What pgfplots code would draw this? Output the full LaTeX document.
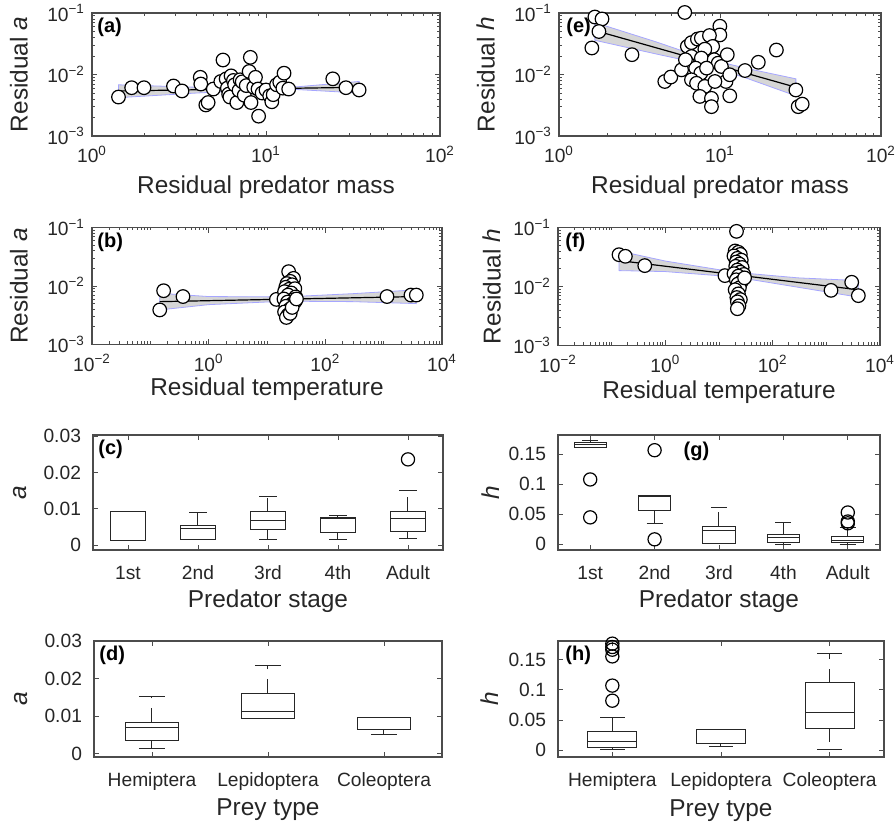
\documentclass[border=0pt]{standalone}
\usepackage{fontspec}
\setmainfont{Liberation Sans}
\usepackage{pgfplots}
\pgfplotsset{compat=1.18}

\tikzset{tag/.style={font=\fontsize{10}{12}\selectfont\bfseries, text=black, inner sep=0pt, anchor=north west}}

\pgfplotsset{
  panel/.style={
    scale only axis, clip=false, anchor=north west,
    axis line style={black!70, line width=0.55pt},
    every tick/.style={black!70, line width=0.45pt},
    major tick length=2.6pt, minor tick length=1.5pt,
    tick label style={font=\fontsize{9.6}{11}\selectfont, text=black!85},
    label style={font=\fontsize{12.2}{14}\selectfont, text=black!85},
    xlabel style={at={([yshift=-29pt]axis description cs:0.5,0)}, anchor=base},
    ylabel style={at={([xshift=-36.5pt]axis description cs:0,0.5)}, anchor=center},
  },
  logpanel/.style={panel, ymin=1e-3, ymax=1e-1,
    ytick={0.001,0.01,0.1},
    yticklabels={10\textsuperscript{−3},10\textsuperscript{−2},10\textsuperscript{−1}},
    minor ytick={0.002,0.003,0.004,0.005,0.006,0.007,0.008,0.009,0.02,0.03,0.04,0.05,0.06,0.07,0.08,0.09},
    xticklabel style={yshift=-1.5pt},
  },
  catpanel/.style={panel, scaled y ticks=false,
    xticklabel style={yshift=-4.5pt}, yticklabel style={xshift=-2.5pt}},
  boxpanel/.style={catpanel, ytick={0,0.01,0.02,0.03}, yticklabels={0,0.01,0.02,0.03},
    ymin=-0.0013, ymax=0.0303},
  hpanel/.style={catpanel, ytick={0,0.05,0.1,0.15}, yticklabels={0,0.05,0.1,0.15}},
  dot/.style={only marks, mark=*, mark size=3.4pt, mark options={fill=white, draw=black, line width=0.6pt, solid}},
  band/.style={fill=black!16, draw=blue!35, line width=0.4pt},
  fitline/.style={black, line width=0.6pt, no marks},
  boxline/.style={black!85, line width=0.5pt, solid, no marks},
  whisk/.style={boxline, dash pattern=on 7pt off 5pt},
  outlier/.style={only marks, mark=o, mark size=3.3pt, mark options={black, line width=0.6pt, solid}},
}

% one box: #1 position, #2 half width, #3 lower whisker, #4 lower quartile,
% #5 median, #6 upper quartile, #7 upper whisker
\newcommand{\bxp}[7]{%
  \pgfmathsetmacro{\bxL}{#1-#2}\pgfmathsetmacro{\bxR}{#1+#2}%
  \pgfmathsetmacro{\bxCL}{#1-#2/2}\pgfmathsetmacro{\bxCR}{#1+#2/2}%
  \edef\bxtmp{%
    \noexpand\addplot[whisk] coordinates {(#1,#6) (#1,#7)};
    \noexpand\addplot[whisk] coordinates {(#1,#4) (#1,#3)};
    \noexpand\addplot[boxline] coordinates {(\bxCL,#7) (\bxCR,#7)};
    \noexpand\addplot[boxline] coordinates {(\bxCL,#3) (\bxCR,#3)};
    \noexpand\addplot[boxline] coordinates {(\bxL,#4) (\bxR,#4) (\bxR,#6) (\bxL,#6)} -- cycle;
    \noexpand\addplot[boxline] coordinates {(\bxL,#5) (\bxR,#5)};
  }\bxtmp}

\begin{document}
\begin{tikzpicture}
\useasboundingbox (0,0) rectangle (448pt,412.5pt);

% (a)
\begin{loglogaxis}[logpanel, at={(46pt,406pt)}, width=174pt, height=61.5pt,
  xmin=1, xmax=100, xtick={1,10,100},
  xticklabels={10\textsuperscript{0},10\textsuperscript{1},10\textsuperscript{2}},
  minor xtick={2,3,4,5,6,7,8,9,20,30,40,50,60,70,80,90},
  xlabel={Residual predator mass}, ylabel={Residual \textit{a}}]
\addplot[band] coordinates {(1.42,0.0068) (4,0.0062) (8,0.0060) (15,0.0063) (34.3,0.0077)
  (34.3,0.0050) (15,0.0057) (8,0.0055) (4,0.0050) (1.42,0.0042)} -- cycle;
\addplot[fitline] coordinates {(1.42,0.0054) (34.3,0.0062)};
\addplot[dot] coordinates {
 (1.42,0.0043) (1.69,0.0061) (1.99,0.0061) (2.94,0.0065) (3.29,0.0054) (4.19,0.0090) (4.22,0.0070)
 (4.51,0.0032) (4.65,0.0035) (4.98,0.0058) (5.66,0.0172) (5.5,0.0077) (5.9,0.0085) (6.0,0.0060)
 (6.1,0.0048) (6.2,0.0043) (6.3,0.0095) (6.5,0.0080) (6.6,0.0068) (6.8,0.0035) (7.0,0.0055)
 (7.1,0.0082) (7.3,0.0076) (7.5,0.0046) (7.7,0.0066) (8.13,0.0190) (8.0,0.0112) (8.2,0.0035)
 (8.5,0.0062) (8.7,0.0090) (9.07,0.0021) (9.0,0.0058) (9.5,0.0050) (10.0,0.0056) (10.5,0.0045)
 (10.8,0.0036) (11.0,0.0047) (11.5,0.0068) (12.0,0.0075) (12.7,0.0105) (12.5,0.0060) (13.5,0.0058)
 (24.2,0.0085) (28.8,0.0061) (34.3,0.0056)};
\node[tag, xshift=2.5pt, yshift=-2.5pt] at (rel axis cs:0,1) {(a)};
\end{loglogaxis}

% (e)
\begin{loglogaxis}[logpanel, at={(279.5pt,406pt)}, width=161pt, height=61.5pt,
  xmin=1, xmax=100, xtick={1,10,100},
  xticklabels={10\textsuperscript{0},10\textsuperscript{1},10\textsuperscript{2}},
  minor xtick={2,3,4,5,6,7,8,9,20,30,40,50,60,70,80,90},
  xlabel={Residual predator mass}, ylabel={Residual \textit{h}}]
\addplot[band] coordinates {(1.67,0.070) (4,0.034) (8,0.0183) (15,0.0124) (29.6,0.0085)
  (29.6,0.0045) (15,0.0085) (8,0.0146) (4,0.0216) (1.67,0.036)} -- cycle;
\addplot[fitline] coordinates {(1.67,0.052) (29.6,0.0062)};
\addplot[dot] coordinates {
 (1.67,0.086) (1.85,0.080) (1.77,0.050) (1.6,0.027) (2.84,0.021) (4.54,0.0077) (4.95,0.0091)
 (6.04,0.102) (9.98,0.061) (9.98,0.044) (6.27,0.0286) (6.65,0.033) (7.24,0.0377) (7.66,0.039)
 (8.6,0.043) (9.0,0.0286) (8.05,0.0258) (6.65,0.0196) (6.3,0.0153) (7.66,0.0185) (9.2,0.0174)
 (9.75,0.0153) (10.2,0.0135) (7.06,0.0127) (7.6,0.0105) (6.65,0.0082) (7.15,0.0072) (8.05,0.0064)
 (7.5,0.0044) (8.85,0.0041) (8.85,0.0030) (10.9,0.0077) (11.5,0.0099) (9.3,0.0077) (8.25,0.0127)
 (5.77,0.0119) (6.1,0.0174) (11.1,0.021) (11.5,0.0045) (14.3,0.0116) (17.3,0.0158) (22.4,0.025)
 (29.6,0.0056) (30.6,0.0030) (32.4,0.0033)};
\node[tag, xshift=3.5pt, yshift=-2.5pt] at (rel axis cs:0,1) {(e)};
\end{loglogaxis}

% (b)
\begin{loglogaxis}[logpanel, at={(46pt,298.75pt)}, width=175pt, height=58.5pt,
  xmin=0.01, xmax=10000, xtick={0.01,1,100,10000},
  xticklabels={10\textsuperscript{−2},10\textsuperscript{0},10\textsuperscript{2},10\textsuperscript{4}},
  minor xtick={0.02,0.03,0.04,0.05,0.06,0.07,0.08,0.09,0.1,0.2,0.3,0.4,0.5,0.6,0.7,0.8,0.9,
    2,3,4,5,6,7,8,9,10,20,30,40,50,60,70,80,90,200,300,400,500,600,700,800,900,1000,
    2000,3000,4000,5000,6000,7000,8000,9000},
  xlabel={Residual temperature}, ylabel={Residual \textit{a}},
  xlabel style={at={([yshift=-25.5pt]axis description cs:0.5,0)}}]
\addplot[band] coordinates {(0.145,0.0075) (1,0.0066) (20,0.0065) (300,0.0074) (3630,0.0086)
  (3630,0.0050) (300,0.0054) (20,0.0055) (1,0.0048) (0.145,0.0039)} -- cycle;
\addplot[fitline] coordinates {(0.145,0.0054) (3630,0.0066)};
\addplot[dot] coordinates {
 (0.145,0.0039) (0.169,0.0083) (0.363,0.0066) (14.5,0.0059)
 (23.5,0.0176) (28.5,0.0135) (25,0.0120) (22,0.0110) (27,0.0105) (21,0.0095) (24,0.0088) (30,0.0090)
 (20,0.0080) (26,0.0076) (23,0.0070) (31,0.0065) (19.5,0.0060) (28,0.0058) (22.5,0.0053) (26.5,0.0049)
 (30.5,0.0055) (21,0.0045) (24.5,0.0040) (20,0.0036) (23,0.0032) (21.5,0.0029) (25,0.0034) (27,0.0043)
 (32,0.0060) (1140,0.0066) (2940,0.0070) (3630,0.0070)};
\node[tag, xshift=2.5pt, yshift=-2.5pt] at (rel axis cs:0,1) {(b)};
\end{loglogaxis}

% (f)
\begin{loglogaxis}[logpanel, at={(279pt,298.75pt)}, width=161pt, height=59pt,
  xmin=0.01, xmax=10000, xtick={0.01,1,100,10000},
  xticklabels={10\textsuperscript{−2},10\textsuperscript{0},10\textsuperscript{2},10\textsuperscript{4}},
  minor xtick={0.02,0.03,0.04,0.05,0.06,0.07,0.08,0.09,0.1,0.2,0.3,0.4,0.5,0.6,0.7,0.8,0.9,
    2,3,4,5,6,7,8,9,10,20,30,40,50,60,70,80,90,200,300,400,500,600,700,800,900,1000,
    2000,3000,4000,5000,6000,7000,8000,9000},
  xlabel={Residual temperature}, ylabel={Residual \textit{h}},
  xlabel style={at={([yshift=-26.5pt]axis description cs:0.5,0)}},
  ylabel style={at={([xshift=-33pt]axis description cs:0,0.5)}}]
\addplot[band] coordinates {(0.137,0.040) (1,0.027) (20,0.0174) (300,0.014) (3950,0.0126)
  (3950,0.0066) (300,0.0097) (20,0.0145) (1,0.0179) (0.137,0.0186)} -- cycle;
\addplot[fitline] coordinates {(0.137,0.0275) (3950,0.0088)};
\addplot[dot] coordinates {
 (21.2,0.086) (0.137,0.0346) (0.18,0.0325) (0.414,0.0226) (12.9,0.0153)
 (20,0.040) (23,0.038) (25,0.035) (19,0.033) (22,0.030) (26,0.028) (21,0.026) (24,0.024) (20.5,0.022)
 (27,0.021) (22,0.019) (25,0.0175) (29,0.016) (19,0.0165) (23,0.015) (21,0.013) (26,0.012) (22.5,0.011)
 (24,0.0095) (20,0.0088) (23,0.0075) (21.5,0.0065) (25,0.006) (22,0.0055) (23.5,0.0047) (22,0.0042)
 (30,0.014) (1222,0.0086) (2970,0.0118) (3950,0.0070)};
\node[tag, xshift=3.5pt, yshift=-2.5pt] at (rel axis cs:0,1) {(f)};
\end{loglogaxis}

% (c)
\begin{axis}[boxpanel, at={(46.5pt,195pt)}, width=175pt, height=57.5pt,
  xmin=0.5, xmax=5.5, xtick={1,2,3,4,5}, xticklabels={1st,2nd,3rd,4th,Adult},
  xlabel={Predator stage}, ylabel={\textit{a}}]
\bxp{1}{0.25}{0.0012}{0.0012}{0.00927}{0.00927}{0.00927}
\bxp{2}{0.25}{0.0016}{0.0016}{0.0045}{0.0055}{0.0089}
\bxp{3}{0.25}{0.00155}{0.0043}{0.0068}{0.0092}{0.01345}
\bxp{4}{0.25}{0.00155}{0.0036}{0.0073}{0.0077}{0.0083}
\bxp{5}{0.25}{0.0018}{0.0039}{0.0073}{0.0094}{0.0151}
\addplot[outlier] coordinates {(5,0.0236)};
\node[tag, xshift=2.5pt, yshift=-2.5pt] at (rel axis cs:0,1) {(c)};
\end{axis}

% (g)
\begin{axis}[hpanel, at={(279pt,195pt)}, width=161pt, height=57.5pt,
  ymin=-0.0094, ymax=0.182,
  xmin=0.5, xmax=5.5, xtick={1,2,3,4,5}, xticklabels={1st,2nd,3rd,4th,Adult},
  xlabel={Predator stage}, ylabel={\textit{h}},
  ylabel style={at={([xshift=-33.5pt]axis description cs:0,0.5)}}]
\bxp{1}{0.25}{0.161}{0.161}{0.1667}{0.169}{0.1733}
\bxp{2}{0.25}{0.0343}{0.0559}{0.0795}{0.0808}{0.0808}
\bxp{3}{0.25}{0.0006}{0.0006}{0.0238}{0.0299}{0.0615}
\bxp{4}{0.25}{0.0}{0.0033}{0.0116}{0.0172}{0.0371}
\bxp{5}{0.25}{0.0}{0.0028}{0.0072}{0.0127}{0.0277}
\addplot[outlier] coordinates {(1,0.108) (1,0.0449) (2,0.1567) (2,0.0083) (5,0.053) (5,0.038) (5,0.035)};
\node[font=\fontsize{10}{12}\selectfont\bfseries, inner sep=0pt] at (rel axis cs:0.43,0.86) {(g)};
\end{axis}

% (d)
\begin{axis}[boxpanel, at={(47pt,92pt)}, width=174pt, height=58pt,
  ymin=-0.0009, ymax=0.0301,
  xmin=0.5, xmax=3.5, xtick={1,2,3}, xticklabels={Hemiptera,Lepidoptera,Coleoptera},
  xlabel={Prey type}, ylabel={\textit{a}},
  xlabel style={at={([yshift=-29.5pt]axis description cs:0.5,0)}}]
\bxp{1}{0.225}{0.00142}{0.00364}{0.00693}{0.00836}{0.0152}
\bxp{2}{0.225}{0.00942}{0.00942}{0.0112}{0.0161}{0.0235}
\bxp{3}{0.225}{0.005}{0.0065}{0.0096}{0.0096}{0.0096}
\node[tag, xshift=2.5pt, yshift=-2.5pt] at (rel axis cs:0,1) {(d)};
\end{axis}

% (h)
\begin{axis}[hpanel, at={(279pt,92pt)}, width=163pt, height=58pt,
  ymin=-0.0111, ymax=0.1811,
  xmin=0.5, xmax=3.5, xtick={1,2,3}, xticklabels={Hemiptera,Lepidoptera,Coleoptera},
  xlabel={Prey type}, ylabel={\textit{h}},
  xlabel style={at={([yshift=-30pt]axis description cs:0.5,0)}},
  ylabel style={at={([xshift=-34pt]axis description cs:0,0.5)}}]
\bxp{1}{0.225}{0.0017}{0.0044}{0.015}{0.0317}{0.0544}
\bxp{2}{0.225}{0.0056}{0.0111}{0.0111}{0.0344}{0.0344}
\bxp{3}{0.225}{0.0017}{0.0367}{0.0633}{0.1122}{0.16}
\addplot[outlier] coordinates {(1,0.1767) (1,0.1711) (1,0.1667) (1,0.1556) (1,0.1072) (1,0.0822)};
\node[tag, xshift=3.5pt, yshift=-2.5pt] at (rel axis cs:0,1) {(h)};
\end{axis}
\end{tikzpicture}
\end{document}
